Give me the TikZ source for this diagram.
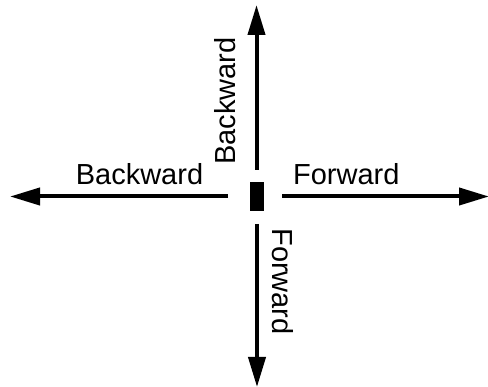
\documentclass[tikz,border=0pt]{standalone}
\usepackage{fontspec}
\setmainfont{Liberation Sans}
\usetikzlibrary{arrows.meta}
\tikzset{
  arr/.style={line width=4pt, -{Triangle[length=30pt,width=17pt]}},
  lbl/.style={inner sep=0pt, anchor=base, font=\fontsize{29}{35}\selectfont},
  blk/.style={fill=black, draw=none, minimum width=14pt, minimum height=29pt, inner sep=0pt}
}
\begin{document}
\begin{tikzpicture}[x=1pt,y=-1pt]
\useasboundingbox (0,0) rectangle (488,387);
\node[blk] (c) at (257,196.5) {};
\coordinate (us) at (256.5,170);
\coordinate (ue) at (256.5,5);
\coordinate (ls) at (228,196.5);
\coordinate (le) at (10,196.5);
\coordinate (rs) at (282,196.5);
\coordinate (re) at (489,196.5);
\coordinate (ds) at (257,224);
\coordinate (de) at (257,387);
\draw[arr] (us) -- (ue);
\draw[arr] (ls) -- (le);
\draw[arr] (rs) -- (re);
\draw[arr] (ds) -- (de);
\node[lbl] (lb) at (139.5,184.3) {Backward};
\node[lbl] (lf) at (346.3,184.3) {Forward};
\node[lbl, rotate=90] (ub) at (235.5,101) {Backward};
\node[lbl, rotate=-90] (df) at (272.3,281.5) {Forward};
\end{tikzpicture}
\end{document}
